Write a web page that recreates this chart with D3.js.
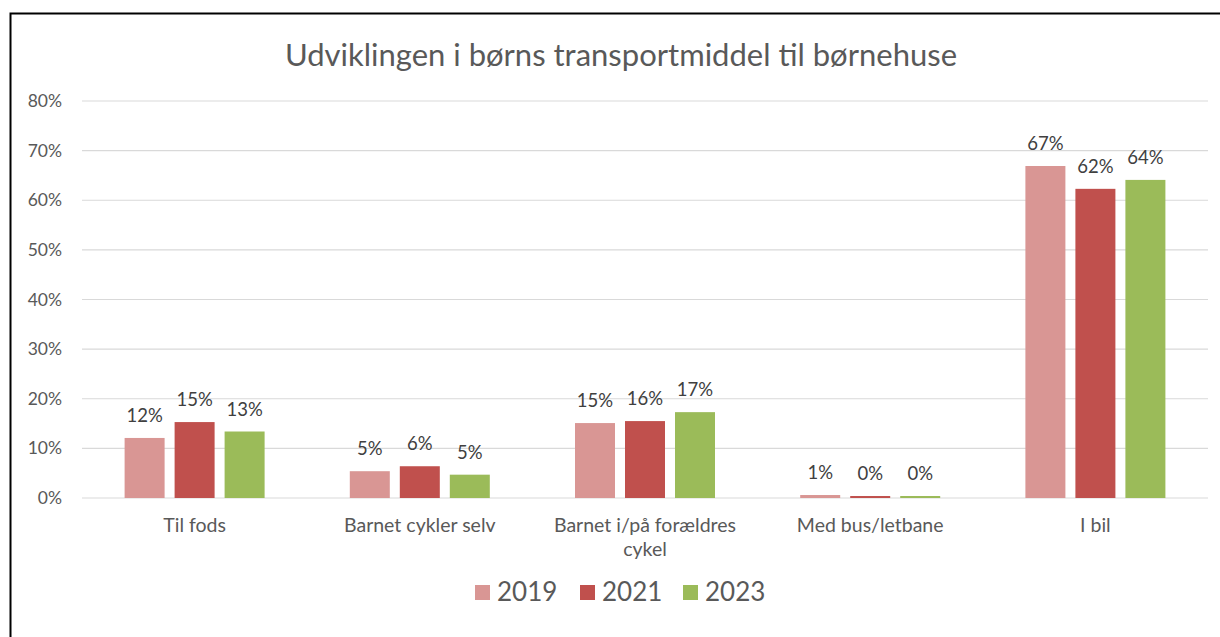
<!DOCTYPE html>
<html>
<head>
<meta charset="utf-8">
<script src="https://cdn.jsdelivr.net/npm/d3@7"></script>
<style>
  body { margin: 0; background: #fff; overflow: hidden; }
  svg { display: block; font-family: Lato, "Open Sans", sans-serif; }
</style>
</head>
<body>
<div id="chart"></div>
<script>
var title = "Udviklingen i børns transportmiddel til børnehuse";
var categories = ["Til fods", "Barnet cykler selv", "Barnet i/på forældres cykel", "Med bus/letbane", "I bil"];
var years = ["2019", "2021", "2023"];
var values2019 = [12.1, 5.4, 15.1, 0.6, 66.9];
var values2021 = [15.3, 6.4, 15.5, 0.4, 62.3];
var values2023 = [13.4, 4.7, 17.3, 0.4, 64.1];
var colors = ["#d99694", "#c0504d", "#9bbb59"];
var yTicks = [0, 10, 20, 30, 40, 50, 60, 70, 80];

const width = 1220, height = 637;
var margin = { top: 101, right: 12, bottom: 139, left: 82 };
const plot_width = width - margin.left - margin.right,
    plot_height = height - margin.top - margin.bottom;

var series = [values2019, values2021, values2023];

var svg = d3.select('#chart')
    .append('svg')
    .attr('width', width)
    .attr('height', height);

// outer frame (only top/left edges visible in the crop)
svg.append('path')
    .attr('d', `M10.5,${height}V13.5H${width}`)
    .attr('fill', 'none')
    .attr('stroke', '#000')
    .attr('stroke-width', 2);

svg.append('text')
    .attr('x', 621).attr('y', 66)
    .attr('text-anchor', 'middle')
    .style('font-size', '31px')
    .style('fill', '#595959')
    .text(title);

var plot = svg.append('g')
    .attr('transform', `translate(${margin.left},${margin.top})`);

var x = d3.scaleBand().domain(categories).range([0, plot_width]).paddingInner(0).paddingOuter(0);
var y = d3.scaleLinear().domain([0, 80]).range([plot_height, 0]);
var barW = 40, gap = 10;

// grid
plot.append('g')
    .selectAll('line')
    .data(yTicks)
    .enter().append('line')
    .attr('x1', 0).attr('x2', plot_width)
    .attr('y1', d => y(d)).attr('y2', d => y(d))
    .attr('stroke', '#d9d9d9')
    .attr('stroke-width', 1.2);

var yAxis = d3.axisLeft(y).tickValues(yTicks).tickFormat(d => d + '%').tickSize(0).tickPadding(20);
plot.append('g')
    .attr('class', 'y_axis')
    .call(yAxis)
    .call(g => g.select('.domain').remove())
    .selectAll('text')
    .style('font-size', '17.5px')
    .style('font-family', 'Lato, sans-serif')
    .style('fill', '#595959');

// bars
series.forEach(function (vals, si) {
    var xOff = (x.bandwidth() - (3 * barW + 2 * gap)) / 2 + si * (barW + gap);
    var g = plot.append('g');
    g.selectAll('rect')
        .data(vals)
        .enter().append('rect')
        .attr('x', (d, i) => x(categories[i]) + xOff)
        .attr('y', d => y(d))
        .attr('width', barW)
        .attr('height', d => plot_height - y(d))
        .attr('fill', colors[si]);
    g.selectAll('text')
        .data(vals)
        .enter().append('text')
        .attr('x', (d, i) => x(categories[i]) + xOff + barW / 2)
        .attr('y', d => y(d) - 16)
        .attr('text-anchor', 'middle')
        .style('font-size', '18.5px')
        .style('fill', '#404040')
        .text(d => Math.round(d) + '%');
});

// category labels
var catLines = [["Til fods"], ["Barnet cykler selv"], ["Barnet i/på forældres", "cykel"], ["Med bus/letbane"], ["I bil"]];
plot.append('g')
    .selectAll('text')
    .data(catLines)
    .enter().append('text')
    .attr('x', (d, i) => x(categories[i]) + x.bandwidth() / 2)
    .attr('y', plot_height + 34)
    .attr('text-anchor', 'middle')
    .style('font-size', '19.5px')
    .style('fill', '#595959')
    .each(function (d) {
        var t = d3.select(this);
        d.forEach(function (line, li) {
            t.append('tspan')
                .attr('x', t.attr('x'))
                .attr('dy', li == 0 ? 0 : 24)
                .text(line);
        });
    });

// legend
var legendX = [475, 580, 683];
var legend = svg.append('g')
    .selectAll('g')
    .data(years)
    .enter().append('g')
    .attr('transform', (d, i) => `translate(${legendX[i]},592)`);
legend.append('rect')
    .attr('x', 0).attr('y', -7)
    .attr('width', 15).attr('height', 15)
    .attr('fill', (d, i) => colors[i]);
legend.append('text')
    .attr('x', 22).attr('y', 9)
    .style('font-size', '26px')
    .style('fill', '#595959')
    .text(d => d);
</script>
</body>
</html>
